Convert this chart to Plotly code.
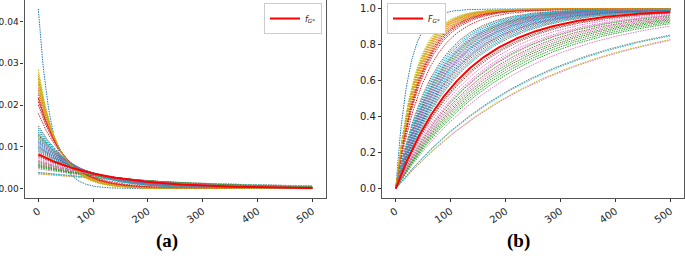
import numpy as np
import plotly.graph_objects as go

# Rate parameters (lambda) of the exponential curves
rates = [
    0.0430, 0.0262, 0.0125, 0.0180, 0.0110, 0.0150, 0.00349, 0.00386, 0.00354, 0.00380,
    0.0105, 0.0248, 0.0058, 0.0215, 0.0132, 0.0098, 0.0047, 0.0120, 0.0285, 0.0115,
    0.0140, 0.0270, 0.0052, 0.0225, 0.0102, 0.0062, 0.0068, 0.0092, 0.0275, 0.0108,
    0.0128, 0.0240, 0.0050, 0.0200, 0.0118, 0.0056, 0.0072, 0.0088, 0.0230, 0.0135,
    0.0095, 0.0255, 0.0065, 0.0208, 0.0122, 0.0078, 0.0060, 0.0112, 0.0265, 0.0145,
    0.0100, 0.0235, 0.0054, 0.0218, 0.0113, 0.0076, 0.0066, 0.0130, 0.0250, 0.0090,
]
rate_star = 0.0082
x_max = 500
x_ticks = [0, 100, 200, 300, 400, 500]
y_ticks_pdf = [0.00, 0.01, 0.02, 0.03, 0.04]
y_ticks_cdf = [0.0, 0.2, 0.4, 0.6, 0.8, 1.0]
captions = ["(a)", "(b)"]

palette = ["#1f77b4", "#ff7f0e", "#2ca02c", "#d62728", "#9467bd",
           "#8c564b", "#e377c2", "#7f7f7f", "#bcbd22", "#17becf"]

x = np.linspace(0, x_max, 251)

fig = go.Figure()
for i, lam in enumerate(rates):
    c = palette[i % len(palette)]
    fig.add_trace(go.Scatter(x=x, y=lam * np.exp(-lam * x), mode="lines",
                             line=dict(color=c, width=1, dash="1.5px,1px"),
                             showlegend=False, xaxis="x", yaxis="y", hoverinfo="skip"))
    fig.add_trace(go.Scatter(x=x, y=1 - np.exp(-lam * x), mode="lines",
                             line=dict(color=c, width=1, dash="1.5px,1px"),
                             showlegend=False, xaxis="x2", yaxis="y2", hoverinfo="skip"))

fig.add_trace(go.Scatter(x=x, y=rate_star * np.exp(-rate_star * x), mode="lines",
                         line=dict(color="red", width=2),
                         name="<i>f</i><sub><i>G</i>*</sub>",
                         xaxis="x", yaxis="y", legend="legend"))
fig.add_trace(go.Scatter(x=x, y=1 - np.exp(-rate_star * x), mode="lines",
                         line=dict(color="red", width=2),
                         name="<i>F</i><sub><i>G</i>*</sub>",
                         xaxis="x2", yaxis="y2", legend="legend2"))

W, H = 685, 256
ax_common = dict(showline=True, mirror=True, linecolor="#555", linewidth=1.3,
                 ticks="outside", ticklen=3, tickcolor="#333", tickwidth=1,
                 showgrid=False, zeroline=False, automargin=False)
font_tick = dict(family="DejaVu Sans", size=10, color="#222")

fig.update_layout(
    width=W, height=H,
    margin=dict(l=0, r=0, t=0, b=0, pad=0, autoexpand=False),
    paper_bgcolor="white", plot_bgcolor="white",
    xaxis=dict(domain=[24.6 / W, 326 / W], range=[-25, 525], tickvals=x_ticks,
               tickangle=-35, anchor="y", tickfont=font_tick, **ax_common),
    yaxis=dict(domain=[1 - 197.5 / H, 1], range=[-0.00215, 0.04515],
               tickvals=y_ticks_pdf, tickformat=".2f", anchor="x",
               tickfont=dict(family="DejaVu Sans", size=9, color="#222"), **ax_common),
    xaxis2=dict(domain=[382 / W, 684 / W], range=[-25, 525], tickvals=x_ticks,
                tickangle=-35, anchor="y2", tickfont=font_tick, **ax_common),
    yaxis2=dict(domain=[1 - 197.5 / H, 1], range=[-0.05, 1.05],
                tickvals=y_ticks_cdf, tickformat=".1f", anchor="x2",
                tickfont=font_tick, **ax_common),
    legend=dict(x=322 / W, y=1 - 3 / H, xanchor="right", yanchor="top",
                bgcolor="white", bordercolor="#ccc", borderwidth=1,
                font=dict(family="DejaVu Sans", size=8, color="#222"),
                itemwidth=30, tracegroupgap=0),
    legend2=dict(x=387 / W, y=1 - 3 / H, xanchor="left", yanchor="top",
                 bgcolor="white", bordercolor="#ccc", borderwidth=1,
                 font=dict(family="DejaVu Sans", size=8, color="#222"),
                 itemwidth=30, tracegroupgap=0),
    annotations=[
        dict(text="<b>%s</b>" % captions[0], x=167 / W, y=1 - 241 / H, xref="paper", yref="paper",
             xanchor="center", yanchor="middle", showarrow=False,
             font=dict(family="Liberation Serif", size=19, color="black")),
        dict(text="<b>%s</b>" % captions[1], x=518 / W, y=1 - 241 / H, xref="paper", yref="paper",
             xanchor="center", yanchor="middle", showarrow=False,
             font=dict(family="Liberation Serif", size=19, color="black")),
    ],
)

fig.write_html("out.html", config={"displayModeBar": False},
               post_script="document.body.style.margin='0';document.body.style.overflow='hidden';")
